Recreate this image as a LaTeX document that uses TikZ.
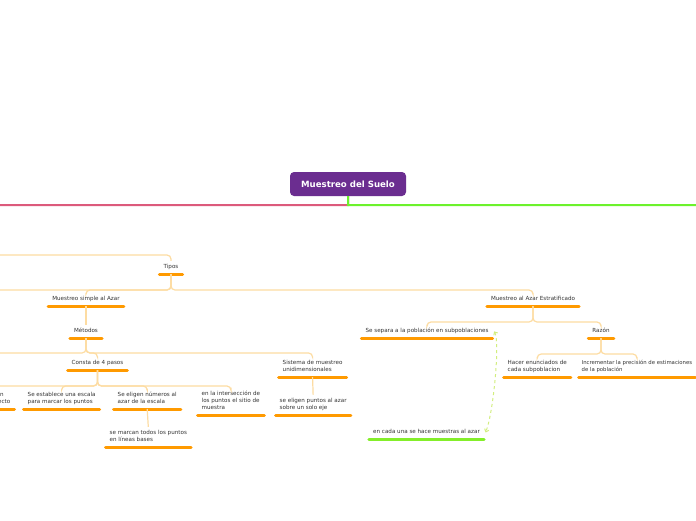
\documentclass[tikz,border=0pt]{standalone}
\usepackage{fontspec}
\setmainfont{DejaVu Sans}
\usetikzlibrary{arrows.meta}
\definecolor{rootpurple}{HTML}{6B2D90}
\definecolor{rootred}{HTML}{DC5A7C}
\definecolor{rootgreen}{HTML}{6CF22C}
\definecolor{ulorange}{HTML}{FF9A00}
\definecolor{connorange}{HTML}{FDDCA2}
\definecolor{ulgreen}{HTML}{84EE2A}
\definecolor{dashgreen}{HTML}{D2EE7E}
\definecolor{txtgray}{HTML}{333333}
\begin{document}
\begin{tikzpicture}[x=1pt,y=-1pt,
  topic/.style={font=\fontsize{5.6}{7}\selectfont, text=txtgray, inner xsep=5.5pt, inner ysep=3.5pt, text depth=1.4pt, align=left},
  rootbox/.style={fill=rootpurple, rounded corners=4pt, minimum width=116pt, minimum height=24pt, text=white, font=\bfseries\fontsize{8.6}{10}\selectfont},
  conn/.style={draw=connorange, line width=1.2pt, rounded corners=4pt},
  ul/.style={draw=ulorange, line width=3pt, line cap=round, shorten <=1.5pt, shorten >=1.5pt},
  ulg/.style={ul, draw=ulgreen},
  redline/.style={draw=rootred, line width=2pt},
  greenline/.style={draw=rootgreen, line width=2pt},
  dashc/.style={draw=dashgreen, line width=1pt, dashed, {Straight Barb[length=2.5pt,width=4.5pt]}-{Straight Barb[length=2.5pt,width=4.5pt]}}
]
\useasboundingbox (0,0) rectangle (696,520);
\clip (0,0) rectangle (696,520);
\fill[white] (0,0) rectangle (696,520);

% root
\node[rootbox] (root) at (348,184) {Muestreo del Suelo};
\coordinate (redend) at (-5,205);
\coordinate (greenend) at (701,205);
\draw[redline] (root.south) -- ++(0,9) -- (redend);
\draw[greenline] (root.south) -- ++(0,9) -- (greenend);

% single-line topics
\node[topic, anchor=south] (tipos) at (171,274) {Tipos};
\node[topic, anchor=south] (simple) at (86,306) {Muestreo simple al Azar};
\node[topic, anchor=south] (metodos) at (86,338) {Métodos};
\node[topic, anchor=south] (consta) at (97.5,370) {Consta de 4 pasos};
\node[topic, anchor=south] (estrat) at (533,306) {Muestreo al Azar Estratificado};
\node[topic, anchor=south] (separa) at (427,338) {Se separa a la población en subpoblaciones};
\node[topic, anchor=south] (razon) at (601,338) {Razón};
\node[topic, anchor=south] (cada) at (426.5,439) {en cada una se hace muestras al azar};

% multi-line topics
\node[topic, anchor=south east, align=right] (cut) at (16,409) {n\phantom{ec}\\ecto};
\node[topic, anchor=south west] (escala) at (22,409) {Se establece una escala\\para marcar los puntos};
\node[topic, anchor=south west] (numeros) at (112,409) {Se eligen números al\\azar de la escala};
\node[topic, anchor=south west] (intersec) at (196,415) {en la intersección de\\los puntos el sitio de\\muestra};
\node[topic, anchor=south west] (marcan) at (104,447) {se marcan todos los puntos\\en líneas bases};
\node[topic, anchor=south west] (sistema) at (277,377) {Sistema de muestreo\\unidimensionales};
\node[topic, anchor=south west] (eje) at (274,415) {se eligen puntos al azar\\sobre un solo eje};
\node[topic, anchor=south west] (hacer) at (502,377) {Hacer enunciados de\\cada subpoblacion};
\node[topic, anchor=south west, inner xsep=4.5pt, font=\fontsize{5.35}{7}\selectfont] (incr) at (577,377) {Incrementar la precisión de estimaciones\\de la población};

% underlines
\foreach \n in {tipos,simple,metodos,consta,estrat,separa,razon,cut,escala,numeros,intersec,marcan,sistema,eje,hacer,incr}
  \draw[ul] (\n.south west) -- (\n.south east);
\draw[ulg] (cada.south west) -- (cada.south east);

% off-picture connection points
\coordinate (tparent) at (-10,255);
\coordinate (tipoleft) at (-10,290);
\coordinate (metleft) at (-10,353);
\coordinate (consleft) at (-10,386);

% connectors
\draw[conn] (tparent) -| (tipos.north);
\draw[conn] (tipos.south) -- ++(0,16) -- (tipoleft);
\draw[conn] (tipos.south) -- ++(0,16) -| (simple.north);
\draw[conn] (tipos.south) -- ++(0,16) -| (estrat.north);
\draw[conn] (simple.south) -- (metodos.north);
\draw[conn] (metodos.south) -- ++(0,15) -- (metleft);
\draw[conn] (metodos.south) -- ++(0,15) -| (consta.north);
\draw[conn] (metodos.south) -- ++(0,15) -| (sistema.north);
\draw[conn] (consta.south) -- ++(0,16) -- (consleft);
\draw[conn] (consta.south) -- ++(0,16) -| (escala.north);
\draw[conn] (consta.south) -- ++(0,16) -| (numeros.north);
\draw[conn] (consta.south) -- ++(0,16) -| (intersec.north);
\draw[conn] (numeros.south) -- (marcan.north);
\draw[conn] (sistema.south) -- (eje.north);
\draw[conn] (estrat.south) -- ++(0,16) -| (separa.north);
\draw[conn] (estrat.south) -- ++(0,16) -| (razon.north);
\draw[conn] (razon.south) -- ++(0,16) -| (hacer.north);
\draw[conn] (razon.south) -- ++(0,16) -| (incr.north);

% dashed relation
\draw[dashc] (separa.east) .. controls +(6,10) and +(8,-20) .. (cada.east);
\end{tikzpicture}
\end{document}
